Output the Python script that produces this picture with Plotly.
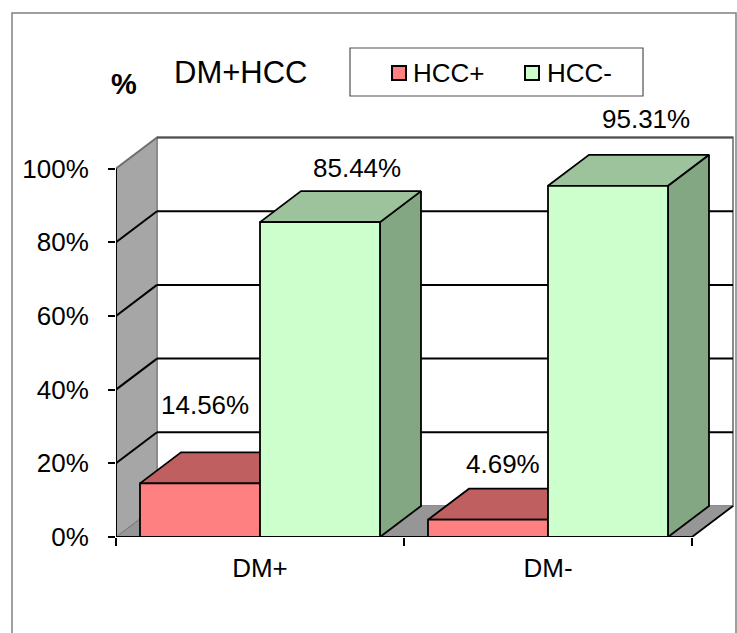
import plotly.graph_objects as go

# ---- data -------------------------------------------------------------
categories = ["DM+", "DM-"]
series_names = ["HCC+", "HCC-"]
hcc_pos = [14.56, 4.69]      # % of each DM group with HCC
hcc_neg = [85.44, 95.31]     # % of each DM group without HCC
y_tick_values = [0, 20, 40, 60, 80, 100]
y_tick_labels = ["0%", "20%", "40%", "60%", "80%", "100%"]
chart_title = "DM+HCC"
axis_unit = "%"

# ---- styling ----------------------------------------------------------
FONT = "Liberation Sans, Arial, sans-serif"
front_colors = ["#FF8080", "#CCFFCC"]
top_colors = ["#C05F5F", "#9CC39C"]
side_colors = ["#A65050", "#83A683"]
WALL_LEFT = "#A6A6A6"
FLOOR = "#969696"

W, H = 737, 633
L, R, T, B = 116, 0, 130, 96
PW, PH = W - L - R, H - T - B
PX_PER_CAT = 288.0      # pixels per category slot
PX_PER_UNIT = 368.5     # pixels per 100 %
DX = 41 / PX_PER_CAT    # 3-D depth, in axis units
DY = 31 / PX_PER_UNIT
BAR_W = 120 / PX_PER_CAT
BAR_GAP = 24 / PX_PER_CAT

# pixel shifts of the value labels from each bar's front-top centre
label_shift = {0: [(5, 78), (15, 56)], 1: [(37, 54), (38, 67)]}


def px_x(px):
    return (px - L) / PW


def px_y(py):
    return (H - B - py) / PH


series_values = [hcc_pos, hcc_neg]
fig = go.Figure()


def face(xs, ys, color):
    fig.add_trace(go.Scatter(
        x=xs + [xs[0]], y=ys + [ys[0]], mode="lines", fill="toself",
        fillcolor=color, line=dict(color="black", width=1.8),
        hoverinfo="skip", showlegend=False))


annotations = []
for ci, cat in enumerate(categories):
    for si, vals in enumerate(series_values):
        v = vals[ci] / 100.0
        x0 = ci - 0.5 + BAR_GAP + si * BAR_W
        x1 = x0 + BAR_W
        # right side, top, then front face of the box
        face([x1, x1 + DX, x1 + DX, x1], [0, DY, v + DY, v], side_colors[si])
        face([x0, x1, x1 + DX, x0 + DX], [v, v, v + DY, v + DY], top_colors[si])
        face([x0, x1, x1, x0], [0, 0, v, v], front_colors[si])
        sx, sy = label_shift[si][ci]
        annotations.append(dict(
            x=(x0 + x1) / 2, y=v, xref="x", yref="y", text=f"{vals[ci]:.2f}%",
            showarrow=False, xshift=sx, yshift=sy,
            font=dict(family=FONT, size=26, color="black")))

# ---- walls, floor, gridlines -----------------------------------------
xl, xr = -0.5, len(categories) - 0.5
shapes = []
shapes.append(dict(type="path", xref="x", yref="y", layer="below",
                   path=f"M{xl},0 L{xl + DX},{DY} L{xl + DX},{1 + DY} L{xl},1 Z",
                   fillcolor=WALL_LEFT, line=dict(width=0)))
shapes.append(dict(type="rect", xref="x", yref="y", layer="below",
                   x0=xl + DX, x1=xr + DX, y0=DY, y1=1 + DY,
                   fillcolor="white", line=dict(color="#8C8C8C", width=2)))
shapes.append(dict(type="path", xref="x", yref="y", layer="below",
                   path=f"M{xl},0 L{xr},0 L{xr + DX},{DY} L{xl + DX},{DY} Z",
                   fillcolor=FLOOR, line=dict(width=0)))
shapes.append(dict(type="line", xref="x", yref="y", layer="below",
                   x0=xr, y0=0, x1=xr + DX, y1=DY,
                   line=dict(color="black", width=1.8)))
for t in y_tick_values:
    g = t / 100.0
    if g == 0:
        shapes.append(dict(type="line", xref="x", yref="y", layer="below",
                           x0=xl, y0=0, x1=xl + DX, y1=DY,
                           line=dict(color="#6E6E6E", width=1)))
        continue
    col = "black" if t < 100 else "#6E6E6E"
    shapes.append(dict(type="line", xref="x", yref="y", layer="below",
                       x0=xl, y0=g, x1=xl + DX, y1=g + DY,
                       line=dict(color=col, width=2)))
    shapes.append(dict(type="line", xref="x", yref="y", layer="below",
                       x0=xl + DX, y0=g + DY, x1=xr + DX, y1=g + DY,
                       line=dict(color="black" if t < 100 else "#505050", width=2)))
# front axis lines
shapes.append(dict(type="line", xref="x", yref="y", layer="above",
                   x0=xl, y0=0, x1=xr, y1=0, line=dict(color="black", width=2)))
shapes.append(dict(type="line", xref="x", yref="y", layer="above",
                   x0=xl, y0=0, x1=xl, y1=1, line=dict(color="black", width=2)))

# ---- chart border, legend, titles ------------------------------------
shapes.append(dict(type="rect", xref="paper", yref="paper",
                   x0=px_x(12), x1=px_x(736), y0=px_y(640), y1=px_y(13),
                   line=dict(color="#808080", width=1.5), fillcolor="rgba(0,0,0,0)"))
shapes.append(dict(type="rect", xref="paper", yref="paper",
                   x0=px_x(350), x1=px_x(643), y0=px_y(96), y1=px_y(48),
                   line=dict(color="#505050", width=1.2), fillcolor="white"))
legend_marks = [(392, 411), (525, 545)]
for si, name in enumerate(series_names):
    mx, tx = legend_marks[si]
    shapes.append(dict(type="rect", xref="paper", yref="paper",
                       x0=px_x(mx), x1=px_x(mx + 14), y0=px_y(80), y1=px_y(66),
                       fillcolor=front_colors[si], line=dict(color="black", width=2)))
    annotations.append(dict(x=px_x(tx), y=px_y(73), xref="paper", yref="paper",
                            text=name, showarrow=False, xanchor="left", yanchor="middle",
                            font=dict(family=FONT, size=26, color="black")))

annotations.append(dict(x=px_x(240), y=px_y(72), xref="paper", yref="paper",
                        text=chart_title, showarrow=False, xanchor="center", yanchor="middle",
                        font=dict(family=FONT, size=31, color="black")))
annotations.append(dict(x=px_x(124), y=px_y(84), xref="paper", yref="paper",
                        text=f"<b>{axis_unit}</b>", showarrow=False,
                        xanchor="center", yanchor="middle",
                        font=dict(family=FONT, size=29, color="black")))

fig.update_layout(
    width=W, height=H, margin=dict(l=L, r=R, t=T, b=B, pad=0),
    paper_bgcolor="white", plot_bgcolor="white",
    showlegend=False, shapes=shapes, annotations=annotations,
    font=dict(family=FONT, size=26, color="black"),
    xaxis=dict(range=[-0.5, -0.5 + PW / PX_PER_CAT], tickvals=list(range(len(categories))),
               ticktext=categories, ticks="", showgrid=False, zeroline=False,
               showline=False, automargin=False, fixedrange=True,
               ticklabelstandoff=13,
               minor=dict(tick0=-0.5, dtick=1, ticks="outside", ticklen=8,
                          tickcolor="black", tickwidth=1.5, showgrid=False),
               tickfont=dict(family=FONT, size=26, color="black")),
    yaxis=dict(range=[0, PH / PX_PER_UNIT], tickvals=[t / 100 for t in y_tick_values],
               ticktext=y_tick_labels, ticks="outside", ticklen=7, tickwidth=1.5,
               tickcolor="black", showgrid=False, zeroline=False, showline=False,
               automargin=False, fixedrange=True, ticklabelstandoff=14,
               tickfont=dict(family=FONT, size=26, color="black")),
)

fig.write_html("out.html")
